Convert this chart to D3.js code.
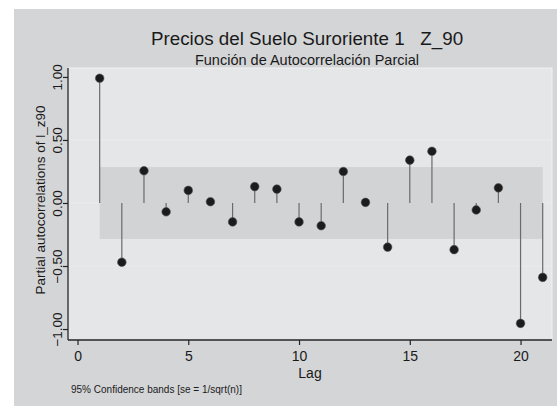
<!DOCTYPE html>
<html>
<head>
<meta charset="utf-8">
<script src="https://cdn.jsdelivr.net/npm/d3@7"></script>
<style>
  body { margin: 0; background: #fff; }
  text { font-family: 'Liberation Sans', Arial, sans-serif; fill: #1a1a1a; }
</style>
</head>
<body>
<svg id="chart" width="557" height="406"></svg>
<script>
// PACF values, lags 1..21
const lags = d3.range(1, 22);
const pacf = [0.99, -0.47, 0.256, -0.07, 0.10, 0.01, -0.15, 0.13, 0.11, -0.15,
  -0.18, 0.25, 0.005, -0.35, 0.34, 0.41, -0.37, -0.055, 0.12, -0.955, -0.59];
const bandLimit = 0.285;
const xTicks = [0, 5, 10, 15, 20];
const yTicks = [-1, -0.5, 0, 0.5, 1];

const title = 'Precios del Suelo Suroriente 1\u00a0\u00a0\u00a0Z_90';
const subtitle = 'Función de Autocorrelación Parcial';
const xLabel = 'Lag';
const yLabel = 'Partial autocorrelations of l_z90';
const note = '95% Confidence bands [se = 1/sqrt(n)]';

const svg = d3.select('#chart');
const plot = { left: 68, top: 68, right: 552, bottom: 340 };
const font = "'Liberation Sans', Arial, sans-serif";

// outer graph region
svg.append('rect')
  .attr('x', 14).attr('y', 9)
  .attr('width', 557 - 14).attr('height', 406 - 9)
  .attr('fill', '#d4d5d7');

const x = d3.scaleLinear().domain([-0.43, 21.42]).range([plot.left, plot.right]);
const y = d3.scaleLinear().domain([-1.087, 1.071]).range([plot.bottom, plot.top]);

// plot region
svg.append('rect')
  .attr('x', plot.left).attr('y', plot.top)
  .attr('width', plot.right - plot.left).attr('height', plot.bottom - plot.top)
  .attr('fill', '#e5e6e8')
  .attr('stroke', '#f1f2f3').attr('stroke-width', 1);

// grid lines
svg.append('g').selectAll('line')
  .data(yTicks.filter(d => d > -1 && d < 1))
  .join('line')
  .attr('x1', plot.left).attr('x2', plot.right)
  .attr('y1', d => y(d)).attr('y2', d => y(d))
  .attr('stroke', '#ebecee').attr('stroke-width', 1);

// confidence band
svg.append('rect')
  .attr('x', x(lags[0])).attr('y', y(bandLimit))
  .attr('width', x(lags[lags.length - 1]) - x(lags[0]))
  .attr('height', y(-bandLimit) - y(bandLimit))
  .attr('fill', '#d2d3d5');

// stems
svg.append('g').selectAll('line')
  .data(pacf)
  .join('line')
  .attr('x1', (d, i) => x(lags[i])).attr('x2', (d, i) => x(lags[i]))
  .attr('y1', y(0)).attr('y2', d => y(d))
  .attr('stroke', '#6b6b6b').attr('stroke-width', 1.2);

// markers
svg.append('g').selectAll('circle')
  .data(pacf)
  .join('circle')
  .attr('cx', (d, i) => x(lags[i]))
  .attr('cy', d => y(d))
  .attr('r', 4.3)
  .attr('fill', '#1c1c1c')
  .attr('stroke', '#555').attr('stroke-width', 0.6);

// axes
const xAxis = svg.append('g')
  .attr('transform', `translate(0,${plot.bottom})`)
  .call(d3.axisBottom(x).tickValues(xTicks).tickSize(5).tickPadding(6));
xAxis.select('.domain').attr('d', `M${plot.left},0H${plot.right}`).attr('stroke', '#222').attr('stroke-width', 1.3);
xAxis.selectAll('.tick line').attr('stroke', '#222').attr('stroke-width', 1.2);
xAxis.selectAll('.tick text')
  .attr('font-size', 14).attr('font-family', font)
  .attr('fill', '#1a1a1a');

const yAxis = svg.append('g')
  .attr('transform', `translate(${plot.left},0)`)
  .call(d3.axisLeft(y).tickValues(yTicks).tickSize(5).tickFormat(d3.format('.2f')));
yAxis.select('.domain').attr('d', `M0,${plot.top}V${plot.bottom}`).attr('stroke', '#222').attr('stroke-width', 1.3);
yAxis.selectAll('.tick line').attr('stroke', '#222').attr('stroke-width', 1.2);
yAxis.selectAll('.tick text')
  .attr('x', null).attr('dy', null)
  .attr('text-anchor', 'middle')
  .attr('transform', 'translate(-6,0) rotate(-90)')
  .attr('font-size', 13.5).attr('font-family', font)
  .attr('fill', '#1a1a1a');

// titles and labels
const midX = 307;
svg.append('text').attr('x', midX).attr('y', 45)
  .attr('text-anchor', 'middle').attr('font-size', 18.8).text(title);
svg.append('text').attr('x', midX).attr('y', 65)
  .attr('text-anchor', 'middle').attr('font-size', 14.5).text(subtitle);
svg.append('text').attr('x', 310).attr('y', 378)
  .attr('text-anchor', 'middle').attr('font-size', 14).text(xLabel);
svg.append('text')
  .attr('transform', `translate(45,200) rotate(-90)`)
  .attr('text-anchor', 'middle').attr('font-size', 13.5).text(yLabel);
svg.append('text').attr('x', 71).attr('y', 393)
  .attr('font-size', 10).text(note);
</script>
</body>
</html>
